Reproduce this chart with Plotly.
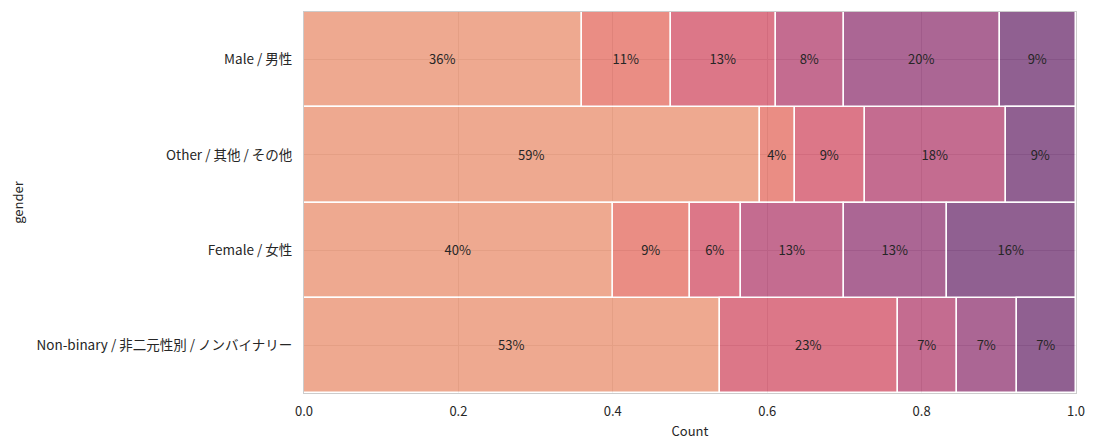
import numpy as np
import plotly.graph_objects as go

# Categories (top to bottom) and hue levels
genders = ["Male / 男性", "Other / 其他 / その他", "Female / 女性",
           "Non-binary / 非二元性別 / ノンバイナリー"]
levels = ["1", "2", "3", "4", "5", "6"]

# Counts per hue level for each gender
male_counts = [66, 21, 25, 16, 37, 18]
other_counts = [13, 1, 2, 4, 0, 2]
female_counts = [12, 3, 2, 4, 4, 5]
nonbinary_counts = [7, 0, 3, 1, 1, 1]

x_ticks = [0.0, 0.2, 0.4, 0.6, 0.8, 1.0]
colors = ["#e98d6b", "#e3685c", "#d14a61", "#b13c6c", "#8f3371", "#6c2b6d"]

all_counts = [male_counts, other_counts, female_counts, nonbinary_counts]

lefts, widths = [], []
for c in all_counts:
    c = np.array(c, dtype=float)
    cum = np.cumsum(c) / c.sum()
    edges = np.concatenate([[0.0], cum])
    lefts.append(edges[:-1])
    widths.append(np.diff(edges))
lefts = np.array(lefts)
widths = np.array(widths)

FONT = "Noto Sans CJK JP"
fig = go.Figure()
for j, lev in enumerate(levels):
    ys, xs, bs, ts = [], [], [], []
    for i, g in enumerate(genders):
        if all_counts[i][j] == 0:
            continue
        ys.append(g)
        xs.append(widths[i, j])
        bs.append(lefts[i, j])
        ts.append(f"{int(widths[i, j] * 100)}%")
    fig.add_trace(go.Bar(
        y=ys, x=xs, base=bs, orientation="h", name=lev,
        text=ts, textposition="inside", insidetextanchor="middle",
        textangle=0, constraintext="none",
        textfont=dict(family=FONT, size=13, color="#262626"),
        marker=dict(color=colors[j], opacity=0.75,
                    line=dict(color="white", width=1.5)),
        width=1.0, showlegend=False,
    ))

# page body has an 8px margin: figure is 1080x432 placed at (8, 8)
fig.update_layout(
    width=1080, height=432,
    margin=dict(l=296, r=11, t=3, b=44),
    barmode="overlay", bargap=0,
    plot_bgcolor="white", paper_bgcolor="white",
    font=dict(family=FONT, size=13, color="#262626"),
    xaxis=dict(range=[0, 1], tickvals=x_ticks, tickformat=".1f",
               showgrid=True, gridcolor="#d5d5d5", gridwidth=1,
               zeroline=False, showline=True, linecolor="#cccccc",
               mirror=True, ticks="", ticklabelstandoff=6,
               title=dict(text="Count", font=dict(size=13), standoff=8)),
    yaxis=dict(categoryorder="array", categoryarray=genders,
               autorange="reversed", range=[3.5, -0.5],
               showgrid=True, gridcolor="#d5d5d5", gridwidth=1,
               zeroline=False, showline=True, linecolor="#cccccc",
               mirror=True, ticks="", ticklabelstandoff=8,
               tickfont=dict(size=13.5),
               title=dict(text="gender", font=dict(size=13), standoff=11)),
)

fig.write_html("out.html")
